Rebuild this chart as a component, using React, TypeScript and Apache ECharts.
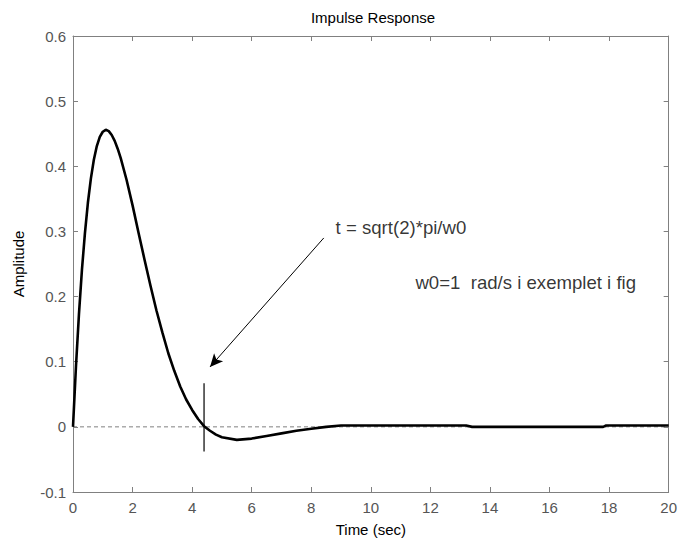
import React, { useEffect, useRef } from "react";
import * as echarts from "echarts";

// Time (sec) samples
const timeValues = [
  0, 0.1, 0.2, 0.3, 0.4, 0.5, 0.6, 0.7, 0.8, 0.9, 1.0, 1.1, 1.2, 1.3, 1.4, 1.5, 1.6,
  1.8, 2.0, 2.2, 2.4, 2.6, 2.8, 3.0, 3.2, 3.4, 3.6, 3.8, 4.0, 4.2, 4.4, 4.6, 4.8,
  5.0, 5.5, 6.0, 6.5, 7.0, 7.5, 8.0, 8.5, 9.0, 13.2, 13.4, 17.8, 17.9, 20,
];
// Amplitude
const amplitudeValues = [
  0, 0.093, 0.173, 0.241, 0.297, 0.344, 0.381, 0.41, 0.431, 0.445, 0.453, 0.456, 0.454,
  0.448, 0.439, 0.427, 0.413, 0.379, 0.34, 0.298, 0.257, 0.217, 0.179, 0.145, 0.113,
  0.086, 0.062, 0.042, 0.026, 0.012, 0.001, -0.006, -0.012, -0.016, -0.02, -0.018,
  -0.014, -0.01, -0.006, -0.003, 0.0, 0.002, 0.002, 0.0, 0.0, 0.002, 0.002,
];

const xTickInterval = 2;
const yTickInterval = 0.1;

// Marker line at t = sqrt(2)*pi/w0
const markerT = 4.4;
const markerRange = [0.067, -0.038];
// Arrow from annotation to marker
const arrowFrom = [8.42, 0.29];
const arrowTo = [4.6, 0.092];
// Annotation texts (anchor at left-middle of the text)
const noteTexts = ["t = sqrt(2)*pi/w0", "w0=1  rad/s i exemplet i fig"];
const notePositions = [
  [8.8, 0.306],
  [11.48, 0.222],
];

const FONT = "Liberation Sans, Arial, Helvetica, sans-serif";

export default function App() {
  const ref = useRef<HTMLDivElement>(null);

  useEffect(() => {
    if (!ref.current) return;
    const chart = echarts.init(ref.current, undefined, { renderer: "svg" });

    const curve = timeValues.map((t, i) => [t, amplitudeValues[i]]);
    const axisGray = "#808080";

    const xBase = {
      type: "value" as const,
      min: 0,
      max: 20,
      interval: xTickInterval,
      splitLine: { show: false },
      axisLine: { show: true, onZero: false, lineStyle: { color: axisGray, width: 1 } },
      axisTick: { show: true, inside: true, length: 5, lineStyle: { color: axisGray } },
    };
    const yBase = {
      type: "value" as const,
      min: -0.1,
      max: 0.6,
      interval: yTickInterval,
      splitLine: { show: false },
      axisLine: { show: true, onZero: false, lineStyle: { color: axisGray, width: 1 } },
      axisTick: { show: true, inside: true, length: 5, lineStyle: { color: axisGray } },
    };

    chart.setOption({
      animation: false,
      backgroundColor: "#ffffff",
      textStyle: { fontFamily: FONT },
      grid: { left: 73, right: 7, top: 36, bottom: 49 },
      graphic: [
        {
          type: "text",
          x: 373,
          y: 17,
          style: {
            text: "Impulse Response",
            fill: "#000",
            font: `15px ${FONT}`,
            textAlign: "center",
            textVerticalAlign: "middle",
          },
        },
      ],
      xAxis: [
        {
          ...xBase,
          position: "bottom",
          name: "Time (sec)",
          nameLocation: "middle",
          nameGap: 30,
          nameTextStyle: { color: "#000", fontSize: 15, fontFamily: FONT },
          axisLabel: { color: "#555", fontSize: 15, fontFamily: FONT, margin: 8 },
        },
        { ...xBase, position: "top", axisLabel: { show: false } },
      ],
      yAxis: [
        {
          ...yBase,
          position: "left",
          name: "Amplitude",
          nameLocation: "middle",
          nameGap: 47,
          nameTextStyle: { color: "#000", fontSize: 15, fontFamily: FONT },
          axisLabel: {
            color: "#555",
            fontSize: 15,
            fontFamily: FONT,
            margin: 7,
            formatter: (v: number) => String(Math.round(v * 10) / 10),
          },
        },
        { ...yBase, position: "right", axisLabel: { show: false } },
      ],
      series: [
        {
          type: "line",
          data: [
            [0, 0],
            [20, 0],
          ],
          symbol: "none",
          silent: true,
          lineStyle: { color: axisGray, width: 1, type: [4, 3] },
          z: 1,
        },
        {
          type: "line",
          data: curve,
          symbol: "none",
          silent: true,
          lineStyle: { color: "#000", width: 2.6 },
          z: 3,
        },
        {
          type: "line",
          data: [
            [markerT, markerRange[0]],
            [markerT, markerRange[1]],
          ],
          symbol: "none",
          silent: true,
          lineStyle: { color: "#000", width: 1.2 },
          z: 2,
          markLine: {
            silent: true,
            symbol: ["none", "arrow"],
            symbolSize: [9, 13],
            label: { show: false },
            lineStyle: { color: "#000", width: 1, type: "solid" },
            data: [[{ coord: arrowFrom }, { coord: arrowTo }]],
          },
        },
        {
          type: "scatter",
          data: notePositions.map((p, i) => ({ value: p, name: noteTexts[i] })),
          symbolSize: 1,
          silent: true,
          itemStyle: { color: "rgba(0,0,0,0)" },
          label: {
            show: true,
            position: "right",
            distance: 0,
            formatter: (p: any) => p.name,
            color: "#000",
            fontSize: 18.6,
            fontFamily: FONT,
          },
          z: 4,
        },
      ],
    });

    return () => chart.dispose();
  }, []);

  return (
    <div
      ref={ref}
      style={{ position: "absolute", left: 0, top: 0, width: 680, height: 542, background: "#fff" }}
    />
  );
}
